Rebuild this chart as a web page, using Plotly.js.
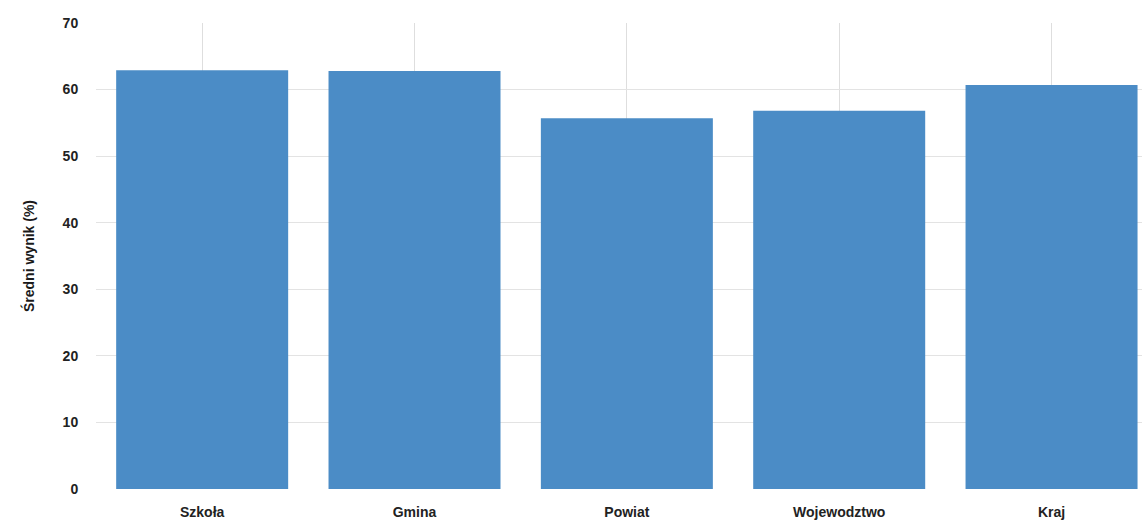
<!DOCTYPE html>
<html>
<head>
<meta charset="utf-8">
<script src="https://cdn.plot.ly/plotly-3.0.1.min.js"></script>
<style>html,body{margin:0;padding:0;background:#fff;}#chart{width:1142px;height:520px;}</style>
</head>
<body>
<div id="chart"></div>
<script>
const categories = ["Szkoła", "Gmina", "Powiat", "Wojewodztwo", "Kraj"];
const values = [62.9, 62.8, 55.7, 56.8, 60.7];
const yTicks = [0, 10, 20, 30, 40, 50, 60, 70];

const trace = {
  type: "bar",
  x: categories,
  y: values,
  marker: {color: "#4b8cc6"},
  hoverinfo: "x+y"
};

const layout = {
  width: 1142,
  height: 520,
  margin: {l: 96, r: 0, t: 23, b: 31},
  paper_bgcolor: "#ffffff",
  plot_bgcolor: "#ffffff",
  bargap: 0.19,
  showlegend: false,
  font: {family: "Liberation Sans, Arial, sans-serif", color: "#222"},
  xaxis: {
    range: [-0.5, 4.426],
    showgrid: true,
    gridcolor: "#dedede",
    gridwidth: 1,
    zeroline: false,
    showline: false,
    ticks: "outside",
    ticklen: 10,
    tickcolor: "rgba(0,0,0,0)",
    tickfont: {family: "Liberation Sans, Arial, sans-serif", size: 14, color: "#222", weight: "bold"}
  },
  yaxis: {
    range: [0, 70],
    tickvals: yTicks,
    ticktext: yTicks.map(String),
    showgrid: true,
    gridcolor: "#e3e3e3",
    gridwidth: 1,
    zeroline: false,
    showline: false,
    ticks: "outside",
    ticklen: 14,
    tickcolor: "rgba(0,0,0,0)",
    tickfont: {family: "Liberation Sans, Arial, sans-serif", size: 14, color: "#222", weight: "bold"},
    title: {
      text: "Średni wynik (%)",
      font: {family: "Liberation Sans, Arial, sans-serif", size: 14, color: "#1a1a1a", weight: "bold"},
      standoff: 24
    }
  }
};

Plotly.newPlot("chart", [trace], layout, {displayModeBar: false, staticPlot: true});
</script>
</body>
</html>
